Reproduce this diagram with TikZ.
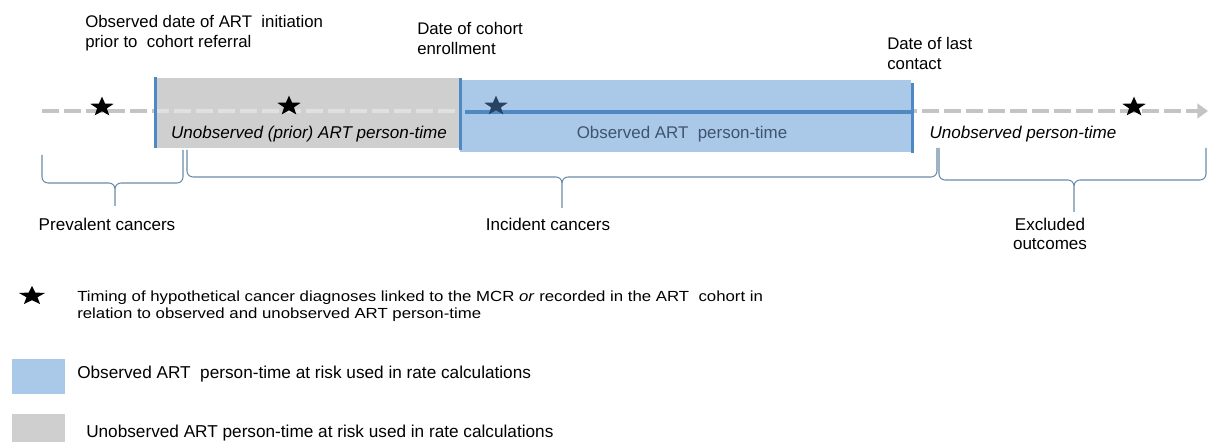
\documentclass[tikz,border=0pt]{standalone}
\usepackage{fontspec}
\setmainfont{Liberation Sans}
\usetikzlibrary{shapes.geometric,arrows.meta}
\definecolor{grayfill}{RGB}{207,207,207}
\definecolor{bluefill}{RGB}{170,201,232}
\definecolor{blueline}{RGB}{78,137,196}
\definecolor{dashgray}{RGB}{196,196,196}
\definecolor{dashlight}{RGB}{224,224,224}
\definecolor{bracecol}{RGB}{108,138,168}
\definecolor{obstext}{RGB}{62,84,112}
\definecolor{starblue}{RGB}{40,66,102}

\begin{document}
\begin{tikzpicture}[x=0.75pt,y=-0.75pt,
  toplbl/.style={font=\fontsize{12.6}{15}\selectfont, align=left, anchor=north west, inner sep=0},
  midlbl/.style={font=\fontsize{12.8}{14}\selectfont\itshape, anchor=center, inner sep=0},
  botlbl/.style={font=\fontsize{12.8}{14.25}\selectfont, align=center, anchor=center, inner sep=0},
  keylbl/.style={font=\fontsize{12.9}{13}\selectfont, align=left, anchor=west, inner sep=0},
  event/.style={star, star points=5, star point ratio=2.4, fill=black, draw=none, inner sep=0, minimum size=15.5pt, xscale=1.2},
  timeline/.style={dashgray, line width=3.5pt, dash pattern=on 12.5pt off 4pt},
  edge/.style={blueline, line width=2.25pt},
  curly/.style={bracecol, line width=0.8pt},
]
\useasboundingbox (0,0) rectangle (1210,442);

% time axis
\coordinate (t0) at (42,111);
\coordinate (t1) at (1208,111);
\draw[timeline, -{Triangle[length=8pt,width=11pt]}] (t0) -- (t1);

% unobserved (prior) person-time
\fill[grayfill] (155,78) rectangle (460,148);
\begin{scope}
  \clip (157,78) rectangle (458,148);
  \draw[timeline, dashlight] (t0) -- (t1);
\end{scope}

% observed person-time
\fill[bluefill] (460,80) rectangle (911,152);
\coordinate (obs0) at (465,112);
\coordinate (obs1) at (912,112);
\draw[blueline, line width=3pt] (obs0) -- (obs1);

% date markers
\coordinate (m1a) at (155,77);  \coordinate (m1b) at (155,148);
\coordinate (m2a) at (460,78);  \coordinate (m2b) at (460,150);
\coordinate (m3a) at (912,83);  \coordinate (m3b) at (912,153);
\draw[edge] (m1a) -- (m1b);
\draw[edge] (m2a) -- (m2b);
\draw[edge] (m3a) -- (m3b);

% hypothetical diagnoses
\node[event] (s1) at (102,107) {};
\node[event] (s2) at (289,106) {};
\node[event, fill=starblue] (s3) at (496,106) {};
\node[event] (s4) at (1134,107) {};

% labels above the axis
\node[toplbl] (initiation) at (85,15) {Observed date of ART\ \ initiation\\prior to\ \ cohort referral};
\node[toplbl] (enrol) at (417,22) {Date of cohort\\enrollment};
\node[toplbl] (lastcontact) at (887,37) {Date of last\\contact};

% labels in the bars
\node[midlbl] (unobsprior) at (309,134) {Unobserved (prior) ART person-time};
\node[midlbl, font=\fontsize{12.7}{14}\selectfont, text=obstext] (obs) at (682,134) {Observed ART\ \ person-time};
\node[midlbl] (unobs) at (1023,134) {Unobserved person-time};

% braces
\draw[curly] (42,155) -- (42,177) to[out=-90,in=180] (48,183) -- (109,183) to[out=0,in=90] (115,189) -- (115,206);
\draw[curly] (183,150) -- (183,177) to[out=-90,in=0] (177,183) -- (121,183) to[out=180,in=90] (115,189);

\draw[curly] (187,150) -- (187,171) to[out=-90,in=180] (193,177) -- (556,177) to[out=0,in=90] (562,183) -- (562,208);
\draw[curly] (937,148) -- (937,171) to[out=-90,in=0] (931,177) -- (568,177) to[out=180,in=90] (562,183);

\draw[curly] (939,148) -- (939,174) to[out=-90,in=180] (945,180) -- (1068,180) to[out=0,in=90] (1074,186) -- (1074,212);
\draw[curly] (1206,148) -- (1206,174) to[out=-90,in=0] (1200,180) -- (1080,180) to[out=180,in=90] (1074,186);

% labels below the braces
\node[botlbl] (prevalent) at (107,224) {Prevalent cancers};
\node[botlbl] (incident) at (548,224) {Incident cancers};
\node[botlbl] (excluded) at (1050,234) {Excluded\\outcomes};

% key
\node[event, minimum size=15pt, xscale=1.15] (keystar) at (32,296) {};
\node[keylbl, anchor=north west, font=\fontsize{11}{12.5}\selectfont, xscale=1.145] (keytext) at (77,291) {Timing of hypothetical cancer diagnoses linked to the MCR \textit{or} recorded in the ART\ \ cohort in\\relation to observed and unobserved ART person-time};
\fill[bluefill] (12,359) rectangle (65,394);
\node[keylbl] (keyobs) at (77,374) {Observed ART\ \ person-time at risk used in rate calculations};
\fill[grayfill] (12,414) rectangle (65,446);
\node[keylbl] (keyunobs) at (86,433) {Unobserved ART person-time at risk used in rate calculations};
\end{tikzpicture}
\end{document}
